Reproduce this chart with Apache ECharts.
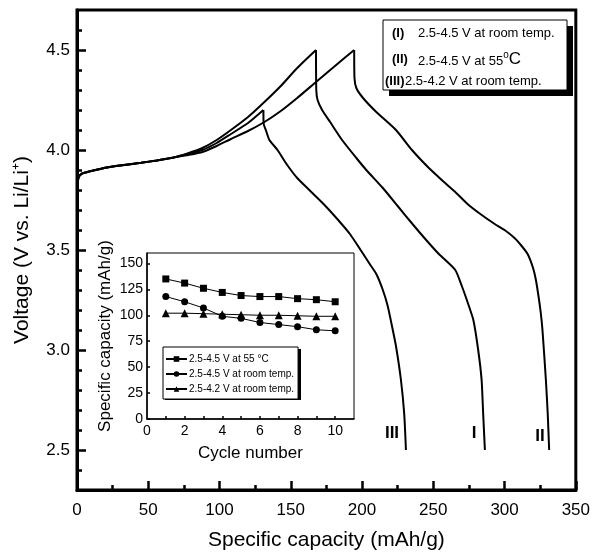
<!DOCTYPE html>
<html>
<head>
<meta charset="utf-8">
<script src="https://cdn.jsdelivr.net/npm/echarts@6/dist/echarts.min.js"></script>
<style>
  html, body { margin: 0; padding: 0; background: #fff; }
  #chart { width: 593px; height: 556px; }
</style>
</head>
<body>
<div id="chart"></div>
<script>
// charge / discharge curves, [capacity mAh/g, voltage V]
var chargeStart = [[0, 3.80], [1, 3.86], [3, 3.88], [10, 3.895], [22, 3.914], [45, 3.936], [56, 3.948], [68, 3.963]];
var chargeI   = [[78, 3.984], [88, 4.01], [98, 4.05], [108, 4.10], [120, 4.165], [131.5, 4.24], [143, 4.32], [154.5, 4.41], [167.7, 4.5]];
var chargeII  = [[78, 3.975], [88, 3.99], [98, 4.02], [108, 4.055], [120, 4.095], [131.5, 4.14], [143, 4.195], [154.5, 4.26], [167.7, 4.34], [181, 4.42], [194.5, 4.5]];
var chargeIII = [[78, 3.98], [88, 4.0], [98, 4.035], [108, 4.08], [120, 4.135], [130.8, 4.2]];

var dischargeI = [[167.7, 4.5], [167.9, 4.30], [168.8, 4.25], [172, 4.20], [177.6, 4.14], [186, 4.05], [196, 3.96],
  [203, 3.90], [214.6, 3.81], [225, 3.72], [235.4, 3.63], [245, 3.55], [253.9, 3.48], [265.4, 3.40], [270, 3.32],
  [274, 3.24], [278.1, 3.15], [281.5, 3.0], [283.9, 2.85], [285, 2.68], [286.2, 2.5]];
var dischargeII = [[194.5, 4.5], [194.7, 4.36], [196, 4.31], [200.7, 4.26], [210, 4.19], [223.8, 4.10], [235, 4.00],
  [246.9, 3.91], [256, 3.85], [265.4, 3.79], [274, 3.73], [283, 3.68], [293.1, 3.63], [300, 3.60], [307, 3.56],
  [312, 3.52], [316.2, 3.48], [320, 3.41], [322, 3.35], [324, 3.26], [325.5, 3.18], [326.6, 3.10], [329, 2.85],
  [330.3, 2.68], [331.3, 2.5]];
var dischargeIII = [[130.8, 4.2], [131, 4.13], [132.5, 4.10], [135, 4.05], [140.7, 4.0], [147, 3.93], [154.5, 3.86],
  [163, 3.80], [173, 3.73], [182, 3.66], [191.5, 3.58], [199, 3.50], [205.4, 3.43], [210, 3.38], [214.6, 3.30],
  [218, 3.22], [221, 3.12], [223.8, 3.02], [227.3, 2.85], [229.6, 2.68], [230.8, 2.5]];

// inset: capacity vs cycle
var cycles = [1, 2, 3, 4, 5, 6, 7, 8, 9, 10];
var cap55 = [135, 131, 126, 122, 119, 118, 118, 116, 115, 113];
var capRoom45 = [118, 113, 107, 99, 97, 93, 91, 89, 86, 85];
var capRoom42 = [102, 102, 101.5, 101, 100.5, 100, 100, 99.5, 99, 99];

var yMajor = [2.5, 3.0, 3.5, 4.0, 4.5];
var yMinor = [2.4, 2.6, 2.7, 2.8, 2.9, 3.1, 3.2, 3.3, 3.4, 3.6, 3.7, 3.8, 3.9, 4.1, 4.2, 4.3, 4.4, 4.6];
var insetXLabels = [0, 2, 4, 6, 8, 10];
var insetXTicks = [1, 2, 3, 4, 5, 6, 7, 8, 9, 10];
var insetYLabels = [0, 25, 50, 75, 100, 125, 150];

var FONT = 'Liberation Sans, Arial, sans-serif';

function pairs(xs, ys) {
  var out = [];
  for (var i = 0; i < xs.length; i++) out.push([xs[i], ys[i]]);
  return out;
}

var chart = echarts.init(document.getElementById('chart'));

function curve(data) {
  return {
    type: 'line', xAxisIndex: 0, yAxisIndex: 0, data: data, showSymbol: false,
    smooth: 0.2, silent: true,
    lineStyle: { color: '#000', width: 2 }, z: 2
  };
}

function insetSeries(name, ys, symbol, size) {
  return {
    name: name, type: 'line', xAxisIndex: 1, yAxisIndex: 2, data: pairs(cycles, ys),
    symbol: symbol, symbolSize: size, showSymbol: true,
    lineStyle: { color: '#000', width: 1 }, itemStyle: { color: '#000' }, z: 12
  };
}

var thick = { lineStyle: { color: '#000', width: 3 } };

var option = {
  animation: false,
  backgroundColor: '#fff',
  textStyle: { fontFamily: FONT },
  grid: [
    { left: 77, top: 10, width: 505, height: 480, show: true, borderColor: '#000', borderWidth: 3 },
    { left: 147, top: 253, width: 207, height: 166, show: true, borderColor: '#000', borderWidth: 1,
      backgroundColor: '#fff', z: 10 }
  ],
  xAxis: [
    {
      gridIndex: 0, type: 'value', min: 0, max: 350, interval: 50,
      name: 'Specific capacity (mAh/g)', nameLocation: 'middle', nameGap: 40,
      nameTextStyle: { fontSize: 21, color: '#000', fontFamily: FONT },
      axisLine: thick,
      axisTick: { inside: true, length: 9, lineStyle: { color: '#000', width: 2.5 } },
      minorTick: { show: true, splitNumber: 2, length: 5, lineStyle: { color: '#000', width: 2.5 } },
      axisLabel: { fontSize: 17, color: '#000', margin: 12, fontFamily: FONT },
      splitLine: { show: false }
    },
    {
      gridIndex: 1, type: 'value', min: 0, max: 11,
      name: 'Cycle number', nameLocation: 'middle', nameGap: 26,
      nameTextStyle: { fontSize: 17, color: '#000', fontFamily: FONT },
      axisLine: { lineStyle: { color: '#000', width: 1.5 } },
      axisTick: { inside: true, length: 3, customValues: insetXTicks, lineStyle: { color: '#000', width: 1.5 } },
      axisLabel: { fontSize: 14, color: '#000', margin: 5, customValues: insetXLabels, fontFamily: FONT },
      splitLine: { show: false }, z: 11
    }
  ],
  yAxis: [
    {
      gridIndex: 0, type: 'value', min: 2.3, max: 4.7,
      name: 'Voltage (V vs. Li/Li\u207A)', nameLocation: 'middle', nameGap: 44,
      nameTextStyle: { fontSize: 21, color: '#000', fontFamily: FONT },
      axisLine: thick,
      axisTick: { inside: true, length: 9, customValues: yMajor, lineStyle: { color: '#000', width: 2.5 } },
      axisLabel: { fontSize: 17, color: '#000', margin: 7, customValues: yMajor, fontFamily: FONT,
        formatter: function (v) { return v.toFixed(1); } },
      splitLine: { show: false }
    },
    {
      gridIndex: 0, type: 'value', min: 2.3, max: 4.7, position: 'left',
      axisLine: { show: false },
      axisTick: { inside: true, length: 5, customValues: yMinor, lineStyle: { color: '#000', width: 2.5 } },
      axisLabel: { show: false }, splitLine: { show: false }
    },
    {
      gridIndex: 1, type: 'value', min: 0, max: 160,
      name: 'Specific capacity (mAh/g)', nameLocation: 'middle', nameGap: 33,
      nameTextStyle: { fontSize: 17, color: '#000', fontFamily: FONT },
      axisLine: { lineStyle: { color: '#000', width: 1.5 } },
      axisTick: { inside: true, length: 3, customValues: insetYLabels, lineStyle: { color: '#000', width: 1.5 } },
      axisLabel: { fontSize: 14, color: '#000', margin: 4, customValues: insetYLabels, fontFamily: FONT },
      splitLine: { show: false }, z: 11
    }
  ],
  legend: {
    data: ['2.5-4.5 V at 55 \u00B0C', '2.5-4.5 V at room temp.', '2.5-4.2 V at room temp.'],
    orient: 'vertical', left: 163, top: 347,
    itemWidth: 21, itemHeight: 7, itemGap: 5,
    padding: [7, 4, 5, 2],
    backgroundColor: '#fff', borderColor: '#000', borderWidth: 1,
    textStyle: { fontSize: 10, color: '#000', fontFamily: FONT, padding: [0, 0, 0, -3] },
    selectedMode: false, z: 20
  },
  graphic: [
    { type: 'rect', z: 19, shape: { x: 165, y: 349, width: 136, height: 51 }, style: { fill: '#000' } },
    { type: 'rect', z: 30, shape: { x: 389, y: 26, width: 184, height: 70 }, style: { fill: '#000' } },
    { type: 'rect', z: 31, shape: { x: 383, y: 20, width: 184, height: 70 },
      style: { fill: '#fff', stroke: '#000', lineWidth: 1 } },
    { type: 'text', z: 32, x: 392, y: 33, style: { text: '(I)', font: 'bold 13px ' + FONT, fill: '#000', textVerticalAlign: 'middle' } },
    { type: 'text', z: 32, x: 418, y: 33, style: { text: '2.5-4.5 V at room temp.', font: '13px ' + FONT, fill: '#000', textVerticalAlign: 'middle' } },
    { type: 'text', z: 32, x: 392, y: 59, style: { text: '(II)', font: 'bold 13px ' + FONT, fill: '#000', textVerticalAlign: 'middle' } },
    { type: 'text', z: 32, x: 418, y: 59, style: {
        text: '{a|2.5-4.5 V at 55}{s|o}{c|C}', fill: '#000', textVerticalAlign: 'middle',
        rich: {
          a: { fontSize: 13, fontFamily: FONT, verticalAlign: 'bottom' },
          s: { fontSize: 10, fontFamily: FONT, verticalAlign: 'top' },
          c: { fontSize: 17, fontFamily: FONT, verticalAlign: 'bottom' }
        } } },
    { type: 'text', z: 32, x: 385, y: 81, style: { text: '(III)', font: 'bold 13px ' + FONT, fill: '#000', textVerticalAlign: 'middle' } },
    { type: 'text', z: 32, x: 405, y: 81, style: { text: '2.5-4.2 V at room temp.', font: '13px ' + FONT, fill: '#000', textVerticalAlign: 'middle' } },
    { type: 'text', z: 32, x: 392, y: 433, style: { text: 'III', font: 'bold 17px ' + FONT, fill: '#000', textAlign: 'center', textVerticalAlign: 'middle' } },
    { type: 'text', z: 32, x: 474, y: 433, style: { text: 'I', font: 'bold 17px ' + FONT, fill: '#000', textAlign: 'center', textVerticalAlign: 'middle' } },
    { type: 'text', z: 32, x: 540, y: 436, style: { text: 'II', font: 'bold 17px ' + FONT, fill: '#000', textAlign: 'center', textVerticalAlign: 'middle' } }
  ],
  series: [
    curve(chargeStart.concat(chargeI)),
    curve(chargeStart.concat(chargeII)),
    curve(chargeStart.concat(chargeIII)),
    curve(dischargeI),
    curve(dischargeII),
    curve(dischargeIII),
    insetSeries('2.5-4.5 V at 55 \u00B0C', cap55, 'rect', 7),
    insetSeries('2.5-4.5 V at room temp.', capRoom45, 'circle', 7),
    insetSeries('2.5-4.2 V at room temp.', capRoom42, 'triangle', 8)
  ]
};

chart.setOption(option);
</script>
</body>
</html>
